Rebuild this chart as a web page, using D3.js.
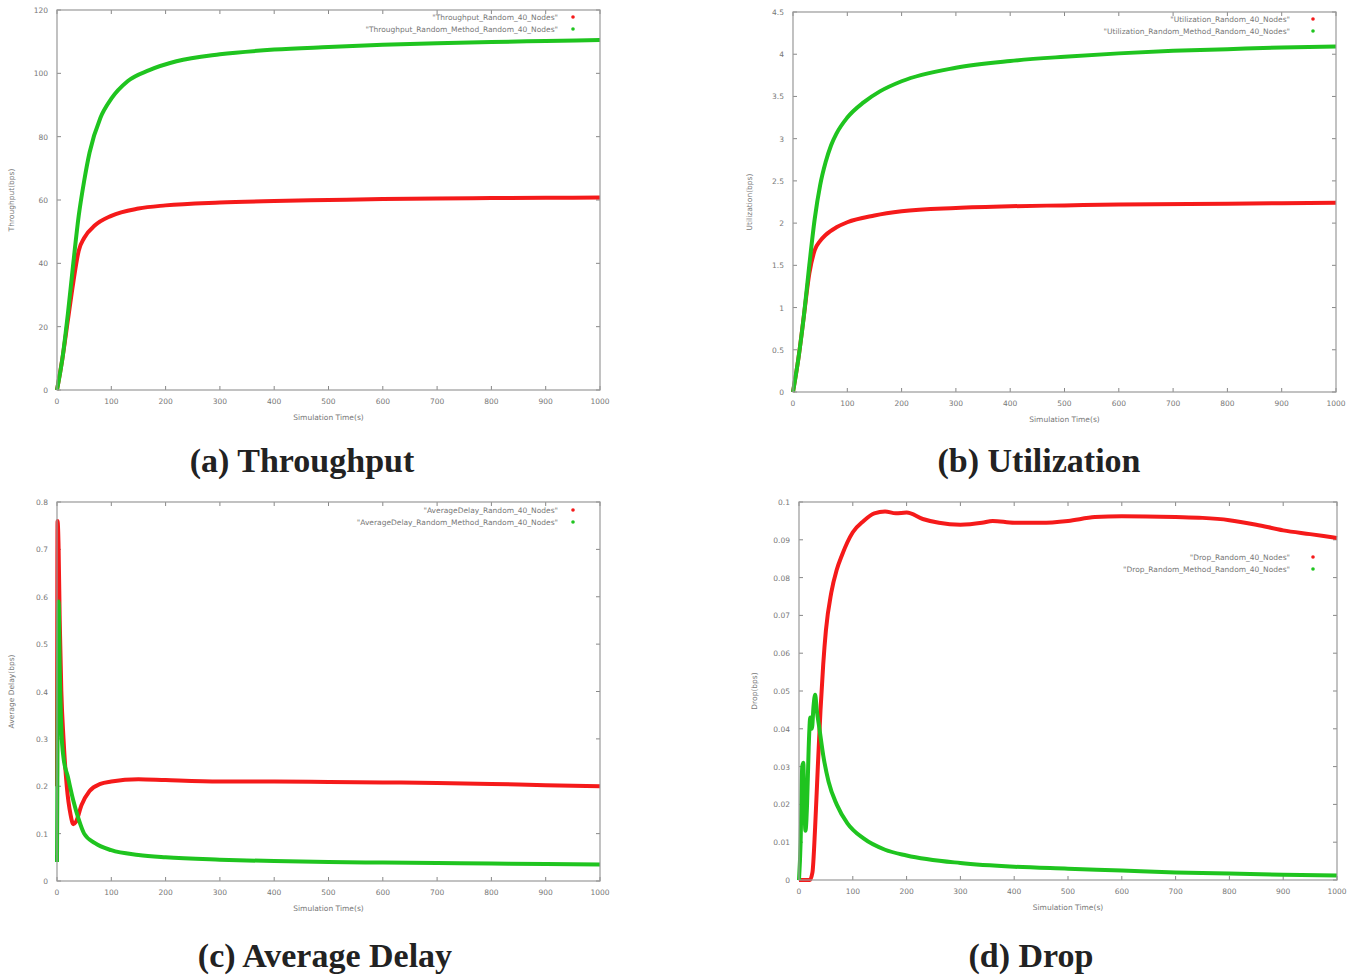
<!DOCTYPE html>
<html>
<head>
<meta charset="utf-8">
<script src="https://cdn.jsdelivr.net/npm/d3@7"></script>
<style>
  body { margin: 0; background: #fff; }
  svg { display: block; }
</style>
</head>
<body>
<svg id="viz"></svg>
<script>
// --- Data ---
const xTicks = [0, 100, 200, 300, 400, 500, 600, 700, 800, 900, 1000];

const tpRedT   = [0, 10, 20, 30, 40, 50, 70, 100, 150, 200, 300, 400, 500, 600, 700, 800, 900, 1000];
const tpRedV   = [0, 10, 22, 34, 44, 48, 52, 55, 57.3, 58.3, 59.2, 59.7, 60, 60.3, 60.5, 60.6, 60.7, 60.8];
const tpGreenT = [0, 10, 20, 30, 40, 50, 60, 80, 100, 130, 170, 220, 300, 400, 500, 600, 700, 800, 900, 1000];
const tpGreenV = [0, 10, 24, 40, 55, 66, 75, 86, 92, 97.5, 101, 103.8, 106, 107.5, 108.3, 109, 109.5, 109.9, 110.2, 110.5];

const utRedT   = [0, 10, 20, 30, 40, 50, 60, 80, 100, 150, 200, 300, 400, 500, 600, 800, 1000];
const utRedV   = [0, 0.4, 0.9, 1.4, 1.68, 1.79, 1.86, 1.95, 2.01, 2.09, 2.14, 2.18, 2.2, 2.21, 2.22, 2.23, 2.24];
const utGreenT = [0, 10, 20, 30, 40, 50, 60, 70, 80, 100, 130, 160, 200, 300, 400, 500, 600, 700, 800, 900, 1000];
const utGreenV = [0, 0.4, 0.9, 1.5, 2.05, 2.45, 2.72, 2.92, 3.06, 3.25, 3.43, 3.56, 3.68, 3.84, 3.92, 3.97, 4.01, 4.04, 4.06, 4.08, 4.09];

const dlRedT   = [0, 1, 3, 5, 8, 12, 18, 25, 30, 35, 45, 60, 80, 100, 150, 200, 300, 400, 500, 600, 700, 800, 900, 1000];
const dlRedV   = [0.2, 0.76, 0.7, 0.55, 0.4, 0.3, 0.2, 0.14, 0.12, 0.125, 0.16, 0.19, 0.205, 0.21, 0.215, 0.213, 0.21, 0.21, 0.209, 0.208, 0.207, 0.205, 0.202, 0.2];
const dlGreenT = [0, 1, 2, 3, 5, 8, 12, 20, 30, 40, 50, 70, 100, 150, 200, 300, 400, 500, 600, 700, 800, 900, 1000];
const dlGreenV = [0.04, 0.3, 0.5, 0.59, 0.45, 0.32, 0.26, 0.22, 0.17, 0.13, 0.1, 0.08, 0.065, 0.055, 0.05, 0.045, 0.042, 0.04, 0.039, 0.038, 0.037, 0.036, 0.035];

const drRedT   = [0, 10, 20, 25, 30, 35, 40, 45, 50, 60, 70, 80, 100, 120, 140, 160, 180, 200, 230, 260, 300, 340, 360, 400, 450, 500, 550, 600, 700, 750, 800, 850, 900, 950, 1000];
const drRedV   = [0, 0, 0, 0.002, 0.014, 0.03, 0.045, 0.057, 0.066, 0.076, 0.082, 0.086, 0.092, 0.095, 0.097, 0.0975, 0.097, 0.0972, 0.0955, 0.0945, 0.094, 0.0945, 0.095, 0.0945, 0.0945, 0.095, 0.096, 0.0962, 0.096, 0.0958, 0.0952, 0.094, 0.0925, 0.0915, 0.0905];
const drGreenT = [0, 3, 6, 8, 10, 12, 15, 18, 21, 24, 27, 30, 33, 38, 45, 55, 70, 90, 120, 160, 200, 300, 400, 500, 600, 700, 800, 900, 1000];
const drGreenV = [0, 0.01, 0.03, 0.031, 0.02, 0.013, 0.02, 0.035, 0.043, 0.04, 0.046, 0.049, 0.045, 0.04, 0.033, 0.026, 0.02, 0.015, 0.011, 0.008, 0.0065, 0.0045, 0.0035, 0.003, 0.0025, 0.002, 0.0017, 0.0014, 0.0012];

const RED = "#f51a1a";
const GREEN = "#1fc41f";

const width = 1358;
const height = 979;

const svg = d3.select("#viz")
  .attr("width", width)
  .attr("height", height);

svg.append("rect").attr("width", width).attr("height", height).attr("fill", "#fff");

const zip = (t, v) => t.map((x, i) => [x, v[i]]);

const panels = [
  {
    box: { left: 57, right: 600, top: 10, bottom: 390 },
    yMax: 120, yStep: 20, fmt: d => d,
    yTitle: "Throughput(bps)", yTitleX: 14,
    legend: { end: 558, y: 17, mark: 573 },
    names: ["\"Throughput_Random_40_Nodes\"", "\"Throughput_Random_Method_Random_40_Nodes\""],
    red: zip(tpRedT, tpRedV), green: zip(tpGreenT, tpGreenV),
    caption: "(a) Throughput", capX: 302, capY: 472
  },
  {
    box: { left: 793, right: 1336, top: 12, bottom: 392 },
    yMax: 4.5, yStep: 0.5, fmt: d3.format("~g"),
    yTitle: "Utilization(bps)", yTitleX: 752,
    legend: { end: 1290, y: 19, mark: 1313 },
    names: ["\"Utilization_Random_40_Nodes\"", "\"Utilization_Random_Method_Random_40_Nodes\""],
    red: zip(utRedT, utRedV), green: zip(utGreenT, utGreenV),
    caption: "(b) Utilization", capX: 1039, capY: 472
  },
  {
    box: { left: 57, right: 600, top: 502, bottom: 881 },
    yMax: 0.8, yStep: 0.1, fmt: d3.format("~g"),
    yTitle: "Average Delay(bps)", yTitleX: 14,
    legend: { end: 558, y: 510, mark: 573 },
    names: ["\"AverageDelay_Random_40_Nodes\"", "\"AverageDelay_Random_Method_Random_40_Nodes\""],
    red: zip(dlRedT, dlRedV), green: zip(dlGreenT, dlGreenV),
    caption: "(c) Average Delay", capX: 325, capY: 967
  },
  {
    box: { left: 799, right: 1337, top: 502, bottom: 880 },
    yMax: 0.1, yStep: 0.01, fmt: d3.format("~g"),
    yTitle: "Drop(bps)", yTitleX: 757,
    legend: { end: 1290, y: 557, mark: 1313 },
    names: ["\"Drop_Random_40_Nodes\"", "\"Drop_Random_Method_Random_40_Nodes\""],
    red: zip(drRedT, drRedV), green: zip(drGreenT, drGreenV),
    caption: "(d) Drop", capX: 1031, capY: 967
  }
];

panels.forEach(p => {
  const b = p.box;
  const x = d3.scaleLinear().domain([0, 1000]).range([b.left, b.right]);
  const y = d3.scaleLinear().domain([0, p.yMax]).range([b.bottom, b.top]);
  const yTicks = d3.range(0, p.yMax + p.yStep / 2, p.yStep).map(v => +v.toFixed(4));

  const g = svg.append("g");

  // --- ticks (inside, mirrored) ---
  const tk = g.append("g").attr("stroke", "#888").attr("stroke-width", 1);
  xTicks.forEach(v => {
    tk.append("line").attr("x1", x(v)).attr("x2", x(v)).attr("y1", b.bottom).attr("y2", b.bottom - 4);
    tk.append("line").attr("x1", x(v)).attr("x2", x(v)).attr("y1", b.top).attr("y2", b.top + 4);
  });
  yTicks.forEach(v => {
    tk.append("line").attr("x1", b.left).attr("x2", b.left + 4).attr("y1", y(v)).attr("y2", y(v));
    tk.append("line").attr("x1", b.right).attr("x2", b.right - 4).attr("y1", y(v)).attr("y2", y(v));
  });

  // --- tick labels ---
  g.append("g").selectAll("text").data(xTicks).join("text")
    .attr("x", d => x(d)).attr("y", b.bottom + 14)
    .attr("text-anchor", "middle")
    .attr("font-family", "DejaVu Sans").attr("font-size", 7.5).attr("fill", "#777")
    .text(d => d);
  g.append("g").selectAll("text").data(yTicks).join("text")
    .attr("x", b.left - 9).attr("y", d => y(d) + 3)
    .attr("text-anchor", "end")
    .attr("font-family", "DejaVu Sans").attr("font-size", 7.5).attr("fill", "#777")
    .text(d => p.fmt(d));

  // --- axis titles ---
  g.append("text")
    .attr("x", (b.left + b.right) / 2).attr("y", b.bottom + 30)
    .attr("text-anchor", "middle")
    .attr("font-family", "DejaVu Sans").attr("font-size", 7.5).attr("fill", "#777")
    .text("Simulation Time(s)");
  g.append("text")
    .attr("transform", `translate(${p.yTitleX},${(b.top + b.bottom) / 2}) rotate(-90)`)
    .attr("text-anchor", "middle")
    .attr("font-family", "DejaVu Sans").attr("font-size", 7.5).attr("fill", "#777")
    .text(p.yTitle);

  // --- series ---
  const line = d3.line().x(d => x(d[0])).y(d => y(d[1])).curve(d3.curveMonotoneX);
  g.append("path").datum(p.red).attr("d", line)
    .attr("fill", "none").attr("stroke", RED).attr("stroke-width", 4).attr("stroke-linejoin", "round");
  g.append("path").datum(p.green).attr("d", line)
    .attr("fill", "none").attr("stroke", GREEN).attr("stroke-width", 4).attr("stroke-linejoin", "round");

  // --- frame ---
  g.append("rect")
    .attr("x", b.left).attr("y", b.top)
    .attr("width", b.right - b.left).attr("height", b.bottom - b.top)
    .attr("fill", "none").attr("stroke", "#999").attr("stroke-width", 1.2);

  // --- legend ---
  [RED, GREEN].forEach((c, i) => {
    g.append("text")
      .attr("x", p.legend.end).attr("y", p.legend.y + i * 12 + 3)
      .attr("text-anchor", "end")
      .attr("font-family", "DejaVu Sans").attr("font-size", 7.5).attr("fill", "#777")
      .text(p.names[i]);
    g.append("circle")
      .attr("cx", p.legend.mark).attr("cy", p.legend.y + i * 12)
      .attr("r", 1.8).attr("fill", c);
  });

  // --- caption ---
  svg.append("text")
    .attr("x", p.capX).attr("y", p.capY)
    .attr("text-anchor", "middle")
    .attr("font-family", "Liberation Serif").attr("font-weight", "bold")
    .attr("font-size", 34).attr("fill", "#222")
    .text(p.caption);
});
</script>
</body>
</html>
